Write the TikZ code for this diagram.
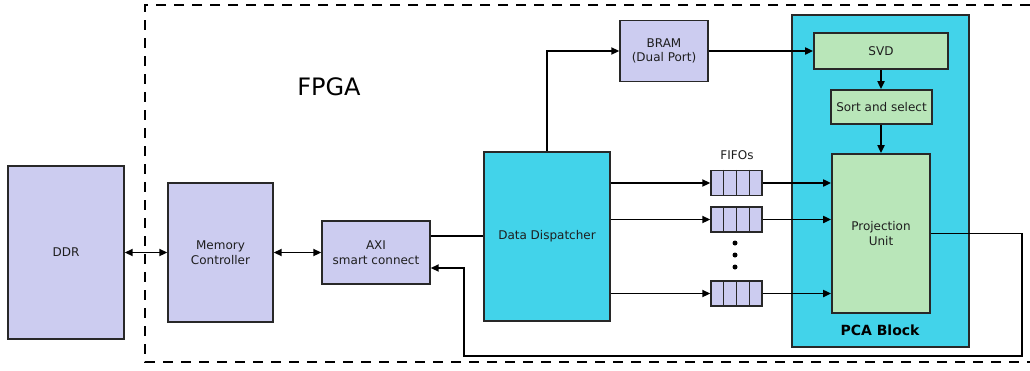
\documentclass[tikz,border=0pt]{standalone}
\usepackage{fontspec}
\setmainfont{DejaVu Sans}
\usetikzlibrary{arrows.meta,calc}
\definecolor{lav}{RGB}{204,204,240}
\definecolor{cyanb}{RGB}{66,211,234}
\definecolor{grn}{RGB}{185,230,185}
\definecolor{edge}{RGB}{40,40,40}
\definecolor{txt}{RGB}{30,30,30}
\tikzset{
  box/.style={draw=edge,line width=1.4pt,fill=lav,align=center,inner sep=0pt,text=txt,font=\fontsize{12}{14.5}\selectfont},
  cbox/.style={box,fill=cyanb},
  gbox/.style={box,fill=grn,line width=1.8pt},
  conn/.style={line width=1.9pt,draw=black},
  arr/.style={conn,-{Triangle[length=8pt,width=7pt]}},
  darr/.style={conn,{Triangle[length=8pt,width=7pt]}-{Triangle[length=8pt,width=7pt]}},
  fifo/.style={draw=edge,line width=1.4pt,fill=lav,minimum width=51pt,minimum height=25pt,inner sep=0pt},
  border/.style={line width=1.6pt,dash pattern=on 10pt off 8pt},
  dotn/.style={circle,fill=black,inner sep=0pt,minimum size=5pt}
}
\begin{document}
\begin{tikzpicture}[x=1pt,y=-1pt]
\useasboundingbox[fill=white] (0,0) rectangle (1030,370);
% FPGA border
\draw[border] (1030,5) -- (145,5) -- (145,362) -- (1030,362);
\node[font=\fontsize{24}{28}\selectfont] (fpga) at (329,87) {FPGA};
% PCA block
\node[cbox,minimum width=177pt,minimum height=332pt] (pca) at (880.5,181) {};
\node[font=\bfseries\fontsize{14}{16}\selectfont] (pcalbl) at (880,330) {PCA Block};
% boxes
\node[box,minimum width=116pt,minimum height=173pt] (ddr) at (66,252.5) {DDR};
\node[box,minimum width=105pt,minimum height=139pt] (mc) at (220.5,252.5) {Memory\\Controller};
\node[box,minimum width=108pt,minimum height=63pt] (axi) at (376,252.5) {AXI\\smart connect};
\node[cbox,minimum width=126pt,minimum height=169pt] (dd) at (547,236.5) {Data Dispatcher};
\node[box,minimum width=88pt,minimum height=61pt] (bram) at (664,51) {BRAM\\(Dual Port)};
\node[gbox,minimum width=134pt,minimum height=36pt] (svd) at (881,51) {SVD};
\node[gbox,minimum width=101pt,minimum height=34pt] (sort) at (881.5,107) {Sort and select};
\node[gbox,minimum width=98pt,minimum height=159pt] (pu) at (881,233.5) {Projection\\Unit};
% FIFOs
\node[font=\fontsize{12}{14}\selectfont,text=txt] (fifolbl) at (737,155) {FIFOs};
\node[fifo] (f1) at (736.5,183) {};
\node[fifo] (f2) at (736.5,219.5) {};
\node[fifo] (f3) at (736.5,293.5) {};
\foreach \f in {f1,f2,f3}{
  \foreach \i in {1,2,3}{
    \draw[draw=edge,line width=1.4pt] ($(\f.north west)!\i/4!(\f.north east)$) -- ($(\f.south west)!\i/4!(\f.south east)$);
  }
}
\node[dotn] (d1) at (735,243) {};
\node[dotn] (d2) at (735,255) {};
\node[dotn] (d3) at (735,267) {};
% coordinates
\coordinate (yaxi) at (0,236);
\coordinate (b1) at (547,51);
\coordinate (c1) at (1022,233.5);
\coordinate (c2) at (1022,356);
\coordinate (c3) at (464,356);
\coordinate (c4) at (464,268);
% connectors
\draw[darr] (ddr.east) -- (mc.west);
\draw[darr] (mc.east) -- (axi.west);
\draw[conn] (axi.east |- yaxi) -- (dd.west |- yaxi);
\draw[arr] (dd.north -| b1) -- (b1) -- (bram.west);
\draw[arr] (bram.east) -- (svd.west);
\draw[arr] (svd.south) -- (sort.north -| svd.south);
\draw[arr] (sort.south -| svd.south) -- (pu.north -| svd.south);
\foreach \f in {f1,f2,f3}{
  \draw[arr] (dd.east |- \f.west) -- (\f.west);
  \draw[arr] (\f.east) -- (pu.west |- \f.east);
}
\draw[arr] (pu.east |- c1) -- (c1) -- (c2) -- (c3) -- (c4) -- (axi.east |- c4);
\end{tikzpicture}
\end{document}
